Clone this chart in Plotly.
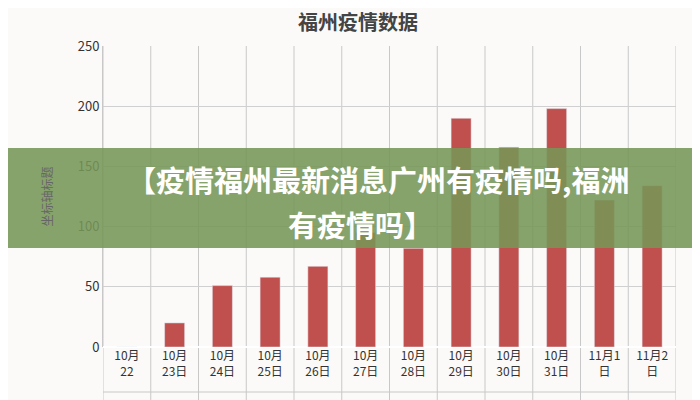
import plotly.graph_objects as go

categories = ["10月22", "10月23日", "10月24日", "10月25日", "10月26日", "10月27日",
              "10月28日", "10月29日", "10月30日", "10月31日", "11月1日", "11月2日"]
tick_labels = ["10月<br>22", "10月<br>23日", "10月<br>24日", "10月<br>25日", "10月<br>26日", "10月<br>27日",
               "10月<br>28日", "10月<br>29日", "10月<br>30日", "10月<br>31日", "11月1<br>日", "11月2<br>日"]
values = [0, 20, 51, 58, 67, 95, 82, 190, 166, 198, 122, 134]

fig = go.Figure(go.Bar(x=categories, y=values, marker_color="#c0504d", width=0.42))

T, B, L, R = 38, 61, 95, 32
H = 400 - T - B
def py(p):
    return (347 - p) / H

shapes = [dict(type="rect", xref="paper", yref="paper", x0=-L/573, x1=1+R/573,
               y0=py(248), y1=py(148), fillcolor="rgba(118,150,88,0.88)", line_width=0, layer="above")]
for i in range(len(categories) + 1):
    shapes.append(dict(type="line", xref="x", yref="paper", x0=i - 0.5, x1=i - 0.5,
                       y0=-53/H, y1=1, line=dict(color="#c8c8c8", width=1), layer="below"))
shapes.append(dict(type="line", xref="paper", yref="paper", x0=0, x1=1, y0=-45/H, y1=-45/H,
                   line=dict(color="#c8c8c8", width=1)))

fig.update_layout(
    width=700, height=400, margin=dict(l=L, r=R, t=T, b=B),
    paper_bgcolor="#fbfaf8", plot_bgcolor="#fbfaf8",
    font=dict(family="Noto Sans CJK SC", color="#333"),
    title=dict(text="<b>福州疫情数据</b>", x=0.5, y=0.98, yanchor="top", font=dict(size=20, color="#444")),
    showlegend=False, bargap=0.5,
    xaxis=dict(tickmode="array", tickvals=categories, ticktext=tick_labels, tickfont=dict(size=12),
               showgrid=False, range=[-0.5, 11.5], automargin=False),
    yaxis=dict(range=[0, 250], dtick=50, gridcolor="#d0d0d0", tickfont=dict(size=13),
               title=dict(text="坐标轴标题", font=dict(size=12, color="#666"), standoff=22),
               showline=True, linecolor="#c8c8c8", automargin=False),
    shapes=shapes,
    annotations=[
        dict(text="<b>【疫情福州最新消息广州有疫情吗,福洲</b>", xref="paper", yref="paper", x=0.48, y=py(179),
             showarrow=False, font=dict(size=29, color="white")),
        dict(text="<b>有疫情吗】</b>", xref="paper", yref="paper", x=0.45, y=py(224),
             showarrow=False, font=dict(size=29, color="white")),
    ],
)
fig.write_html("out.html")
